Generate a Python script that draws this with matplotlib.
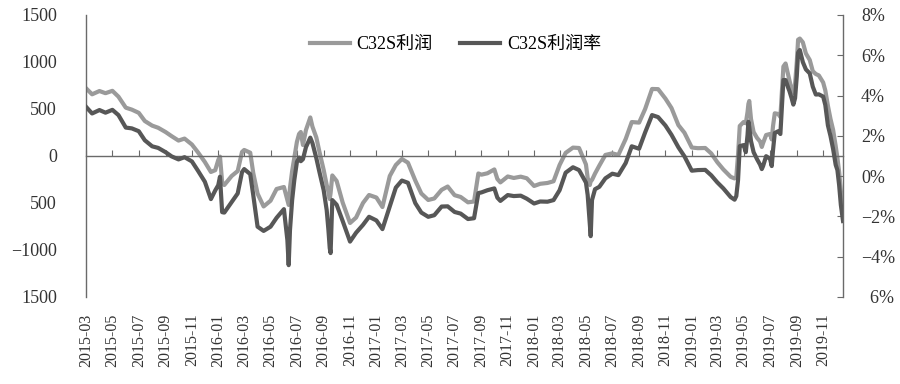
import matplotlib
matplotlib.use('Agg')

from matplotlib import pyplot as plt
import pandas as pd

# C32S profit (yuan/t, left axis) and profit rate (%, right axis)
dates = ['2015-03-01', '2015-03-15', '2015-04-01', '2015-04-15', '2015-05-01', '2015-05-15',
         '2015-06-01', '2015-06-15', '2015-07-01', '2015-07-15', '2015-08-01', '2015-08-15',
         '2015-09-01', '2015-09-15', '2015-10-01', '2015-10-15', '2015-11-01', '2015-11-15',
         '2015-12-01', '2015-12-15', '2015-12-25', '2016-01-01', '2016-01-05', '2016-01-10',
         '2016-01-15', '2016-02-01', '2016-02-15', '2016-02-25', '2016-03-01', '2016-03-15',
         '2016-03-22', '2016-04-01', '2016-04-15', '2016-05-01', '2016-05-15', '2016-06-01',
         '2016-06-09', '2016-06-12', '2016-06-15', '2016-06-20', '2016-06-25', '2016-07-01',
         '2016-07-06', '2016-07-10', '2016-07-15', '2016-07-22', '2016-08-01', '2016-08-06',
         '2016-08-15', '2016-08-22', '2016-09-01', '2016-09-08', '2016-09-12', '2016-09-15',
         '2016-09-17', '2016-09-21', '2016-10-01', '2016-10-15', '2016-11-01', '2016-11-15',
         '2016-12-01', '2016-12-15', '2017-01-01', '2017-01-15', '2017-02-01', '2017-02-15',
         '2017-03-01', '2017-03-15', '2017-04-01', '2017-04-15', '2017-05-01', '2017-05-15',
         '2017-06-01', '2017-06-15', '2017-07-01', '2017-07-15', '2017-08-01', '2017-08-15',
         '2017-08-25', '2017-09-01', '2017-09-15', '2017-10-01', '2017-10-08', '2017-10-15',
         '2017-11-01', '2017-11-15', '2017-12-01', '2017-12-15', '2018-01-01', '2018-01-15',
         '2018-02-01', '2018-02-15', '2018-03-01', '2018-03-15', '2018-04-01', '2018-04-15',
         '2018-05-01', '2018-05-05', '2018-05-10', '2018-05-12', '2018-05-15', '2018-05-22',
         '2018-06-01', '2018-06-15', '2018-07-01', '2018-07-15', '2018-08-01', '2018-08-15',
         '2018-09-01', '2018-09-15', '2018-10-01', '2018-10-15', '2018-11-01', '2018-11-15',
         '2018-12-01', '2018-12-15', '2019-01-01', '2019-01-15', '2019-02-01', '2019-02-15',
         '2019-03-01', '2019-03-15', '2019-04-01', '2019-04-10', '2019-04-14', '2019-04-18',
         '2019-04-22', '2019-05-01', '2019-05-06', '2019-05-10', '2019-05-12', '2019-05-14',
         '2019-05-18', '2019-05-24', '2019-06-01', '2019-06-08', '2019-06-12', '2019-06-15',
         '2019-06-22', '2019-07-01', '2019-07-05', '2019-07-08', '2019-07-12', '2019-07-20',
         '2019-07-25', '2019-08-01', '2019-08-06', '2019-08-12', '2019-08-15', '2019-08-20',
         '2019-08-24', '2019-08-28', '2019-09-01', '2019-09-04', '2019-09-08', '2019-09-15',
         '2019-09-22', '2019-10-01', '2019-10-08', '2019-10-15', '2019-10-22', '2019-11-01',
         '2019-11-06', '2019-11-12', '2019-11-18', '2019-11-24', '2019-11-30', '2019-12-04',
         '2019-12-08', '2019-12-12', '2019-12-17']

profit = [720, 656, 691, 668, 693, 631, 514, 493, 459, 372, 323, 300,
          255, 211, 164, 185, 122, 39, -64, -170, -151, -43, -7, -277,
          -309, -213, -160, 43, 64, 35, -181, -400, -537, -476, -351, -330,
          -468, -521, -340, -160, -21, 149, 234, 255, 117, 277, 410, 312,
          197, 48, -149, -309, -383, -458, -394, -207, -266, -496, -713, -655,
          -500, -415, -442, -543, -213, -96, -32, -71, -261, -399, -468, -452,
          -360, -325, -417, -436, -493, -484, -186, -199, -184, -143, -245, -281,
          -218, -234, -220, -237, -319, -296, -287, -269, -96, 33, 89, 85,
          -90, -234, -309, -266, -255, -187, -102, 11, 28, 11, 181, 361,
          355, 500, 713, 711, 610, 510, 328, 247, 90, 83, 85, 27,
          -66, -143, -222, -239, -223, 11, 319, 362, 348, 468, 553, 585,
          394, 255, 192, 154, 96, 138, 223, 234, 176, 319, 454, 447,
          415, 952, 984, 862, 803, 713, 670, 766, 1000, 1237, 1249, 1209,
          1091, 1021, 902, 872, 857, 782, 697, 534, 394, 279, 106, -21,
          -170, -372, -638]

rate = [3.44, 3.11, 3.28, 3.15, 3.29, 3.03, 2.41, 2.37, 2.23, 1.78, 1.48, 1.40,
        1.19, 0.98, 0.83, 0.94, 0.73, 0.27, -0.28, -1.14, -0.71, -0.45, -0.03, -1.79,
        -1.81, -1.29, -0.86, 0.20, 0.35, 0.10, -0.94, -2.51, -2.72, -2.51, -2.07, -1.64,
        -3.18, -4.42, -2.68, -1.19, -0.20, 0.70, 0.92, 0.74, 0.84, 1.44, 1.91, 1.64,
        0.89, 0.22, -0.70, -1.69, -2.68, -3.57, -3.82, -1.19, -1.42, -2.23, -3.25, -2.81,
        -2.42, -2.02, -2.20, -2.63, -1.51, -0.57, -0.22, -0.33, -1.34, -1.81, -2.02, -1.94,
        -1.51, -1.50, -1.78, -1.86, -2.13, -2.09, -0.84, -0.81, -0.70, -0.61, -1.07, -1.23,
        -0.94, -0.99, -0.97, -1.12, -1.36, -1.26, -1.27, -1.19, -0.70, 0.17, 0.44, 0.30,
        -0.32, -0.94, -2.43, -2.98, -1.19, -0.65, -0.53, -0.11, 0.12, 0.05, 0.65, 1.48,
        1.36, 2.17, 3.03, 2.93, 2.51, 2.05, 1.43, 0.98, 0.27, 0.30, 0.31, 0.04,
        -0.31, -0.61, -1.04, -1.17, -0.99, -0.20, 1.49, 1.54, 1.19, 2.04, 2.70, 2.43,
        1.74, 1.19, 0.84, 0.57, 0.35, 0.50, 0.99, 0.86, 0.50, 1.29, 2.14, 2.23,
        2.09, 4.77, 4.77, 4.39, 4.22, 3.87, 3.55, 3.87, 4.97, 6.13, 6.26, 5.66,
        5.30, 5.10, 4.44, 4.05, 4.06, 3.95, 3.53, 2.52, 1.99, 1.35, 0.56, 0.30,
        -0.45, -1.44, -2.23]

left_ticks = [-1500, -1000, -500, 0, 500, 1000, 1500]
left_labels = ['1500', '\u22121000', '500', '0', '500', '1000', '1500']
right_ticks = [-6, -4, -2, 0, 2, 4, 6, 8]
right_labels = ['  6%', '\u22124%', '\u22122%', '0%', '2%', '4%', '6%', '8%']

plt.rcParams['font.family'] = ['Liberation Serif', 'Noto Sans CJK SC']

d = pd.to_datetime(dates)
tick_dates = pd.date_range('2015-03-01', '2019-11-01', freq='2MS')
tick_labels = [t.strftime('%Y-%m') for t in tick_dates]

fig = plt.figure(figsize=(9, 3.84), dpi=100)
ax = fig.add_axes([0.0956, 0.2266, 0.8411, 0.7344])
l1, = ax.plot(d, profit, color='#9a9a9a', lw=3.0, label='C32S利润')
ax2 = ax.twinx()
l2, = ax2.plot(d, rate, color='#575757', lw=3.0, label='C32S利润率')

ax.set_xlim(d[0], d[-1])
ax.set_ylim(-1500, 1500)
ax2.set_ylim(-6, 8)

# spines: left + right axis lines, horizontal axis at zero
ax.spines['top'].set_visible(False)
ax.spines['right'].set_visible(False)
ax.spines['bottom'].set_position(('data', 0))
for s in ['top', 'left', 'bottom']:
    ax2.spines[s].set_visible(False)
for sp in [ax.spines['left'], ax.spines['bottom'], ax2.spines['right']]:
    sp.set_color('#6a6a6a')
    sp.set_linewidth(1.0)

ax.set_xticks(tick_dates)
ax.tick_params(axis='x', direction='in', length=4, color='#6a6a6a', labelbottom=False)

ax.set_yticks(left_ticks)
ax.set_yticklabels(left_labels)
ax.tick_params(axis='y', length=0, pad=21, labelsize=13, labelcolor='#333333')

ax2.set_yticks(right_ticks)
ax2.set_yticklabels(right_labels)
ax2.tick_params(axis='y', direction='in', length=4, color='#6a6a6a', pad=13,
                labelsize=13, labelcolor='#333333')

# date labels sit at the bottom of the plot, not on the zero line
sec = ax.secondary_xaxis(0.0)
for s in sec.spines.values():
    s.set_visible(False)
sec.set_xticks(matplotlib.dates.date2num(tick_dates))
sec.set_xticklabels(tick_labels, rotation=90)
sec.tick_params(axis='x', length=0, pad=12, labelsize=11.5, labelcolor='#333333')

fig.legend([l1, l2], ['C32S利润', 'C32S利润率'], loc='center', bbox_to_anchor=(0.506, 0.883),
           ncol=2, frameon=False, fontsize=13, handlelength=2.2, handletextpad=0.4,
           columnspacing=1.5)

plt.savefig('out.png', dpi=100)
